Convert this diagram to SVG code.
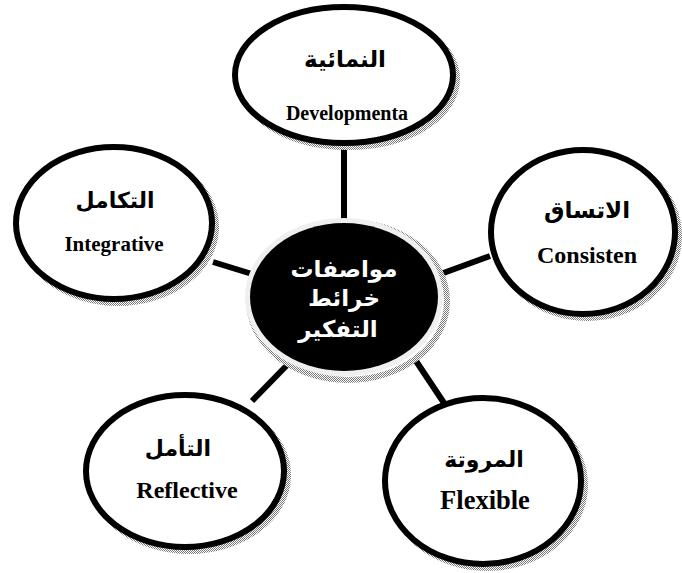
<svg xmlns="http://www.w3.org/2000/svg" width="682" height="573" viewBox="0 0 682 573">
<defs>
<pattern id="chk" width="2" height="2" patternUnits="userSpaceOnUse">
<rect width="2" height="2" fill="#ffffff"/>
<rect width="1" height="1" fill="#7a7a7a"/>
<rect x="1" y="1" width="1" height="1" fill="#7a7a7a"/>
</pattern>
<style>
.shadow{fill:none;stroke:url(#chk);stroke-width:6}
.node{fill:#fff;stroke:#000;stroke-width:6}
.ar{font-family:"DejaVu Sans","Liberation Serif",serif;font-weight:bold;text-anchor:middle;fill:#000}
.en{font-family:"Liberation Serif","Times New Roman",serif;font-weight:bold;text-anchor:middle;fill:#000}
.arw{font-family:"DejaVu Sans","Liberation Sans",sans-serif;font-weight:bold;text-anchor:middle;fill:#fff;font-size:23px}
.conn{stroke:#000;stroke-width:6;fill:none}
</style>
</defs>
<rect width="682" height="573" fill="#fff"/>
<g id="connectors">
<line class="conn" x1="344" y1="146" x2="344" y2="219"/>
<line class="conn" x1="213" y1="262" x2="252" y2="274"/>
<line class="conn" x1="438" y1="275" x2="490" y2="256"/>
<line class="conn" x1="252" y1="401" x2="292" y2="360"/>
<line class="conn" x1="414" y1="358" x2="444" y2="403"/>
</g>
<g id="center">
<ellipse class="shadow" cx="348" cy="301" rx="99" ry="79"/>
<ellipse cx="344" cy="297" rx="99" ry="79" fill="#efefef"/>
<ellipse cx="344" cy="297" rx="94" ry="74" fill="#000"/>
<text class="arw" x="344" y="277">مواصفات</text>
<text class="arw" x="344" y="306">خرائط</text>
<text class="arw" x="338" y="337">التفكير</text>
</g>
<g id="node-top">
<ellipse class="shadow" cx="348" cy="79" rx="109" ry="68"/>
<ellipse class="node" cx="344" cy="75" rx="109" ry="68"/>
<text class="ar" x="345" y="67" font-size="23">النمائية</text>
<text class="en" x="347" y="120" font-size="20">Developmenta</text>
</g>
<g id="node-left">
<ellipse class="shadow" cx="118" cy="227" rx="98" ry="76"/>
<ellipse class="node" cx="114" cy="223" rx="98" ry="76"/>
<text class="ar" x="115" y="208" font-size="22">التكامل</text>
<text class="en" x="114" y="251" font-size="21">Integrative</text>
</g>
<g id="node-right">
<ellipse class="shadow" cx="587" cy="236" rx="92" ry="82"/>
<ellipse class="node" cx="583" cy="232" rx="92" ry="82"/>
<text class="ar" x="587" y="218" font-size="23">الاتساق</text>
<text class="en" x="587" y="263" font-size="24">Consisten</text>
</g>
<g id="node-bottom-left">
<ellipse class="shadow" cx="189" cy="475" rx="99" ry="76"/>
<ellipse class="node" cx="185" cy="471" rx="99" ry="76"/>
<text class="ar" x="178" y="456" font-size="22">التأمل</text>
<text class="en" x="187" y="498" font-size="24">Reflective</text>
</g>
<g id="node-bottom-right">
<ellipse class="shadow" cx="487" cy="485" rx="98" ry="83"/>
<ellipse class="node" cx="483" cy="481" rx="98" ry="83"/>
<text class="ar" x="484" y="467" font-size="22">المروتة</text>
<text class="en" x="485" y="509" font-size="26.5">Flexible</text>
</g>
</svg>
